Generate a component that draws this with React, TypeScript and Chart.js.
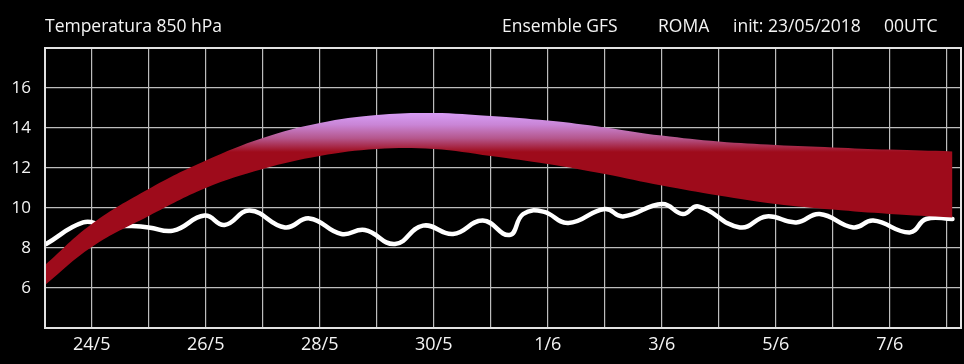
import React, { useEffect, useRef } from 'react';
import { Chart, registerables } from 'chart.js';

Chart.register(...registerables);

// Day index: 0 = 23/5, 1 = 24/5, ... 16 = 8/6
const bandDays = [0.18, 1, 2, 3, 4, 5, 6, 7, 8, 9, 10, 11, 12, 13, 14, 15, 16.1];
const bandUpper = [7.15, 9.2, 10.95, 12.37, 13.5, 14.25, 14.65, 14.75, 14.6, 14.37, 14.03, 13.62, 13.32, 13.15, 13.03, 12.92, 12.83];
const bandLower = [6.15, 8.05, 9.6, 11.0, 11.95, 12.6, 12.95, 12.95, 12.6, 12.2, 11.7, 11.12, 10.62, 10.2, 9.92, 9.7, 9.53];

const controlDays = [0.2, 0.85, 1.2, 1.67, 2.0, 2.43, 2.98, 3.33, 3.77, 4.39, 4.82, 5.38, 5.79, 6.32, 6.81, 7.34, 7.86, 8.33, 8.57, 8.92, 9.36, 10.0, 10.32, 11.01, 11.37, 11.64, 12.37, 12.84, 13.36, 13.77, 14.36, 14.71, 15.35, 15.64, 16.1];
const controlTemps = [8.2, 9.28, 9.15, 9.1, 9.03, 8.87, 9.62, 9.15, 9.87, 9.03, 9.48, 8.7, 8.9, 8.2, 9.12, 8.7, 9.37, 8.65, 9.7, 9.82, 9.25, 9.95, 9.58, 10.2, 9.7, 10.08, 9.03, 9.58, 9.28, 9.7, 9.03, 9.37, 8.78, 9.45, 9.45];

const gridDays = [1, 2, 3, 4, 5, 6, 7, 8, 9, 10, 11, 12, 13, 14, 15, 16];
const labelDays = [1, 3, 5, 7, 9, 11, 13, 15];
const labelTexts = ['24/5', '26/5', '28/5', '30/5', '1/6', '3/6', '5/6', '7/6'];
const yGridValues = [4, 6, 8, 10, 12, 14, 16, 18];
const yLabelValues = [6, 8, 10, 12, 14, 16];

const headerLeft = 'Temperatura 850 hPa';
const headerRight = ['Ensemble GFS', 'ROMA', 'init: 23/05/2018', '00UTC'];

const FONT = '"Open Sans", "Noto Sans", sans-serif';

const bgPlugin = {
  id: 'bgAndFrame',
  beforeDraw(chart: any) {
    const c = chart.ctx;
    c.save();
    c.fillStyle = '#000';
    c.fillRect(0, 0, chart.width, chart.height);
    c.restore();
  },
  afterDraw(chart: any) {
    const c = chart.ctx;
    const a = chart.chartArea;
    c.save();
    c.strokeStyle = '#e2e2e2';
    c.lineWidth = 2;
    c.strokeRect(a.left, a.top, a.right - a.left, a.bottom - a.top);
    c.fillStyle = '#f4f4f4';
    c.font = '17.5px ' + FONT;
    c.textBaseline = 'alphabetic';
    c.textAlign = 'left';
    c.fillText(headerLeft, 45, 32);
    const xs = [502, 658, 733, 884];
    headerRight.forEach((t, i) => c.fillText(t, xs[i], 32));
    c.restore();
  },
};

function bandGradient(ctx: any) {
  const chart = ctx.chart;
  const y = chart.scales && chart.scales.y;
  if (!chart.chartArea || !y) return '#9e0b1b';
  const g = chart.ctx.createLinearGradient(0, y.getPixelForValue(14.75), 0, y.getPixelForValue(12.8));
  g.addColorStop(0, '#d79cf5');
  g.addColorStop(0.3, '#c985d6');
  g.addColorStop(0.65, '#b5568c');
  g.addColorStop(1, '#9e0b1b');
  return g;
}

export default function App() {
  const ref = useRef<HTMLCanvasElement>(null);

  useEffect(() => {
    document.body.style.margin = '0';
    document.body.style.background = '#000';
    const canvas = ref.current;
    if (!canvas) return;
    const chart = new Chart(canvas, {
      type: 'line',
      data: {
        datasets: [
          {
            label: 'max',
            data: bandDays.map((d, i) => ({ x: d, y: bandUpper[i] })),
            borderWidth: 0,
            borderColor: 'rgba(0,0,0,0)',
            pointRadius: 0,
            tension: 0.4,
            fill: '+1',
            backgroundColor: bandGradient,
          },
          {
            label: 'min',
            data: bandDays.map((d, i) => ({ x: d, y: bandLower[i] })),
            borderWidth: 0,
            borderColor: 'rgba(0,0,0,0)',
            pointRadius: 0,
            tension: 0.4,
            fill: false,
          },
          {
            label: 'control',
            data: controlDays.map((d, i) => ({ x: d, y: controlTemps[i] })),
            borderWidth: 4.5,
            borderColor: '#ffffff',
            pointRadius: 0,
            tension: 0.45,
            fill: false,
            borderCapStyle: 'round',
            borderJoinStyle: 'round',
          },
        ],
      } as any,
      options: {
        animation: false,
        responsive: true,
        maintainAspectRatio: false,
        layout: { padding: { top: 48, right: 3, left: 0, bottom: 0 } },
        plugins: {
          legend: { display: false },
          tooltip: { enabled: false },
          title: { display: false },
        },
        scales: {
          x: {
            type: 'linear',
            min: 0.18,
            max: 16.25,
            afterBuildTicks: (axis: any) => {
              axis.ticks = gridDays.map((v) => ({ value: v }));
            },
            afterFit: (axis: any) => {
              axis.height = 36;
            },
            grid: { color: '#bdbdbd', lineWidth: 1.2, drawTicks: false },
            border: { display: false },
            ticks: {
              autoSkip: false,
              maxRotation: 0,
              padding: 6,
              color: '#f4f4f4',
              font: { size: 18, family: FONT },
              callback: (v: any) => {
                const i = labelDays.indexOf(Number(v));
                return i >= 0 ? labelTexts[i] : '';
              },
            },
          },
          y: {
            type: 'linear',
            min: 4,
            max: 18,
            afterBuildTicks: (axis: any) => {
              axis.ticks = yGridValues.map((v) => ({ value: v }));
            },
            afterFit: (axis: any) => {
              axis.width = 45;
            },
            grid: { color: '#bdbdbd', lineWidth: 1.2, drawTicks: false },
            border: { display: false },
            ticks: {
              padding: 14,
              color: '#f4f4f4',
              font: { size: 17, family: FONT },
              callback: (v: any) => (yLabelValues.indexOf(Number(v)) >= 0 ? String(v) : ''),
            },
          },
        },
      } as any,
      plugins: [bgPlugin],
    });
    return () => chart.destroy();
  }, []);

  return (
    <div style={{ position: 'fixed', left: 0, top: 0, width: 964, height: 364, background: '#000' }}>
      <canvas ref={ref} />
    </div>
  );
}
